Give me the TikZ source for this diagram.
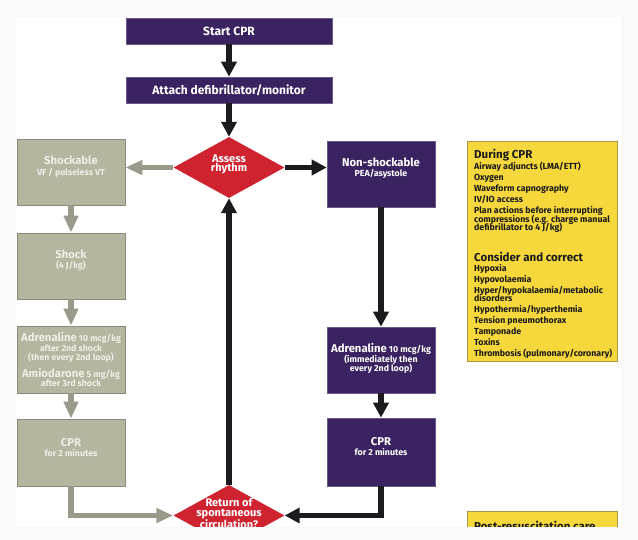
\documentclass[tikz,border=0pt]{standalone}
\usepackage{fontspec}
\setmainfont{Fira Sans}
\usepackage{tikz}
\usetikzlibrary{shapes.geometric}
\usetikzlibrary{arrows.meta}
\definecolor{cprpurple}{HTML}{3A2360}
\definecolor{cprred}{HTML}{CF2330}
\definecolor{shockgray}{HTML}{B6B5A0}
\definecolor{shockedge}{HTML}{8A897A}
\definecolor{shockarrow}{HTML}{9A998A}
\definecolor{shocktext}{HTML}{EEEEE6}
\definecolor{cpryellow}{HTML}{F6D83C}
\definecolor{yellowedge}{HTML}{A8954A}
\definecolor{cprblack}{HTML}{1C1A1E}
\definecolor{pagegray}{HTML}{F9F9F9}
\newcommand{\titlesize}{\fontsize{11.3}{11}\selectfont}
\newcommand{\subsize}{\fontsize{8.8}{10}\selectfont}
\newcommand{\headsize}{\fontsize{11.5}{11}\selectfont}
\newcommand{\itemsize}{\fontsize{8.8}{11}\selectfont}
\newcommand{\colL}{71}
\newcommand{\colM}{229}
\newcommand{\colR}{381}
\tikzstyle{algo}=[x=1pt, y=-1pt, font=\bfseries]
\tikzstyle{pbox}=[rectangle, fill=cprpurple, draw=cprpurple!75!white, line width=0.6pt, text=white, align=center, inner sep=0pt, minimum width=206pt, minimum height=26pt, font=\bfseries\fontsize{12}{12}\selectfont]
\tikzstyle{pstep}=[pbox, minimum width=108pt, minimum height=66pt]
\tikzstyle{gstep}=[rectangle, fill=shockgray, draw=shockedge, line width=0.8pt, inner sep=0pt, minimum width=108pt, minimum height=66pt]
\tikzstyle{ptext}=[align=center, inner sep=0pt, text=white, font=\bfseries\subsize]
\tikzstyle{gtext}=[align=center, inner sep=0pt, text=shocktext, font=\bfseries\subsize]
\tikzstyle{decision}=[diamond, fill=cprred, inner sep=0pt, minimum width=111pt, minimum height=61pt]
\tikzstyle{dtext}=[align=center, inner sep=0pt, text=white, font=\bfseries\fontsize{11}{9.8}\selectfont]
\tikzstyle{note}=[rectangle, fill=cpryellow, draw=yellowedge, line width=0.8pt, inner sep=0pt, minimum width=150pt]
\tikzstyle{notetext}=[anchor=north west, align=left, inner sep=0pt, text=black!90, font=\bfseries\itemsize]
\tikzstyle{edge}=[-{Triangle[width=15pt,length=15pt]}, line width=5.5pt, draw=cprblack]
\tikzstyle{gedge}=[edge, -{Triangle[width=14pt,length=17pt]}, draw=shockarrow]

\begin{document}
\begin{tikzpicture}[algo]
\useasboundingbox (0,0) rectangle (638,540);
\fill[pagegray] (0,0) rectangle (638,540);
\begin{scope}
\clip (16,17) rectangle (621,526.5);
\fill[white] (16,17) rectangle (621,526.5);

\draw (\colM,31) node[pbox] (start) {Start CPR};
\draw (\colM,90) node[pbox] (attach) {Attach defibrillator/monitor};
\draw (\colM,167.5) node[decision, label={[dtext, yshift=3pt]center:{Assess\\rhythm}}] (assess) {};

%Shockable side
\draw (\colL,172) node[gstep, label={[gtext, yshift=5pt]center:{{\titlesize Shockable}\\[1pt]VF / pulseless VT}}] (shockable) {};
\draw (\colL,266) node[gstep, label={[gtext, yshift=6pt]center:{{\titlesize Shock}\\(4 J/kg)}}] (shock) {};
\draw (\colL,359.5) node[gstep, minimum height=67pt, label={[gtext]center:{{\titlesize Adrenaline} 10 mcg/kg\\after 2nd shock\\[-1pt](then every 2nd loop)\\[4pt]{\titlesize Amiodarone} 5 mg/kg\\[-1pt]after 3rd shock}}] (amio) {};
\draw (\colL,452.5) node[gstep, minimum height=67pt, label={[gtext, yshift=5pt]center:{{\titlesize CPR}\\for 2 minutes}}] (cprL) {};

%Non-shockable side
\draw (\colR,174) node[pstep, label={[ptext, yshift=6pt]center:{{\titlesize Non-shockable}\\PEA/asystole}}] (nonshock) {};
\draw (\colR,360) node[pstep, label={[ptext, yshift=2pt]center:{{\titlesize Adrenaline} 10 mcg/kg\\(immediately then\\[-1pt]every 2nd loop)}}] (adrR) {};
\draw (\colR,452) node[pstep, minimum height=68pt, label={[ptext, yshift=5pt]center:{{\titlesize CPR}\\for 2 minutes}}] (cprR) {};

\draw (\colM,515.5) node[decision, label={[dtext, yshift=2pt]center:{Return of\\spontaneous\\circulation?}}] (rosc) {};

%Side notes
\draw (542,251) node[note, minimum height=220pt] (during) {};
\node[notetext] (duringtext) at (474,149) {{\headsize During CPR}\\
Airway adjuncts (LMA/ETT)\\
Oxygen\\
Waveform capnography\\
IV/IO access\\
Plan actions before interrupting\\[-2.3pt]
compressions (e.g. charge manual\\[-2.3pt]
defibrillator to 4 J/kg)\\[18pt]
{\headsize Consider and correct}\\[-1pt]
Hypoxia\\
Hypovolaemia\\
Hyper/hypokalaemia/metabolic\\[-2.3pt]
disorders\\
Hypothermia/hyperthemia\\
Tension pneumothorax\\
Tamponade\\
Toxins\\
Thrombosis (pulmonary/coronary)};
\draw (542,511) node[note, anchor=north, minimum height=40pt] (post) {};
\node[notetext, font=\bfseries\headsize] (posttext) at (474,521) {Post-resuscitation care};

%Connectors
\draw[edge] (start) -- (attach);
\draw[edge] (attach) -- (assess);
\draw[gedge] (assess.west) -- (assess.west -| shockable.east);
\draw[edge] (assess.east) -- (assess.east -| nonshock.west);
\draw[gedge] (shockable) -- (shock);
\draw[gedge] (shock) -- (amio);
\draw[gedge] (amio) -- (cprL);
\draw[edge] (nonshock) -- (adrR);
\draw[edge] (adrR) -- (cprR);
\draw[gedge] (cprL.south) |- (rosc.west);
\draw[edge] (cprR.south) |- (rosc.east);
\draw[edge] (rosc) -- (assess);
\end{scope}
\end{tikzpicture}
\end{document}
